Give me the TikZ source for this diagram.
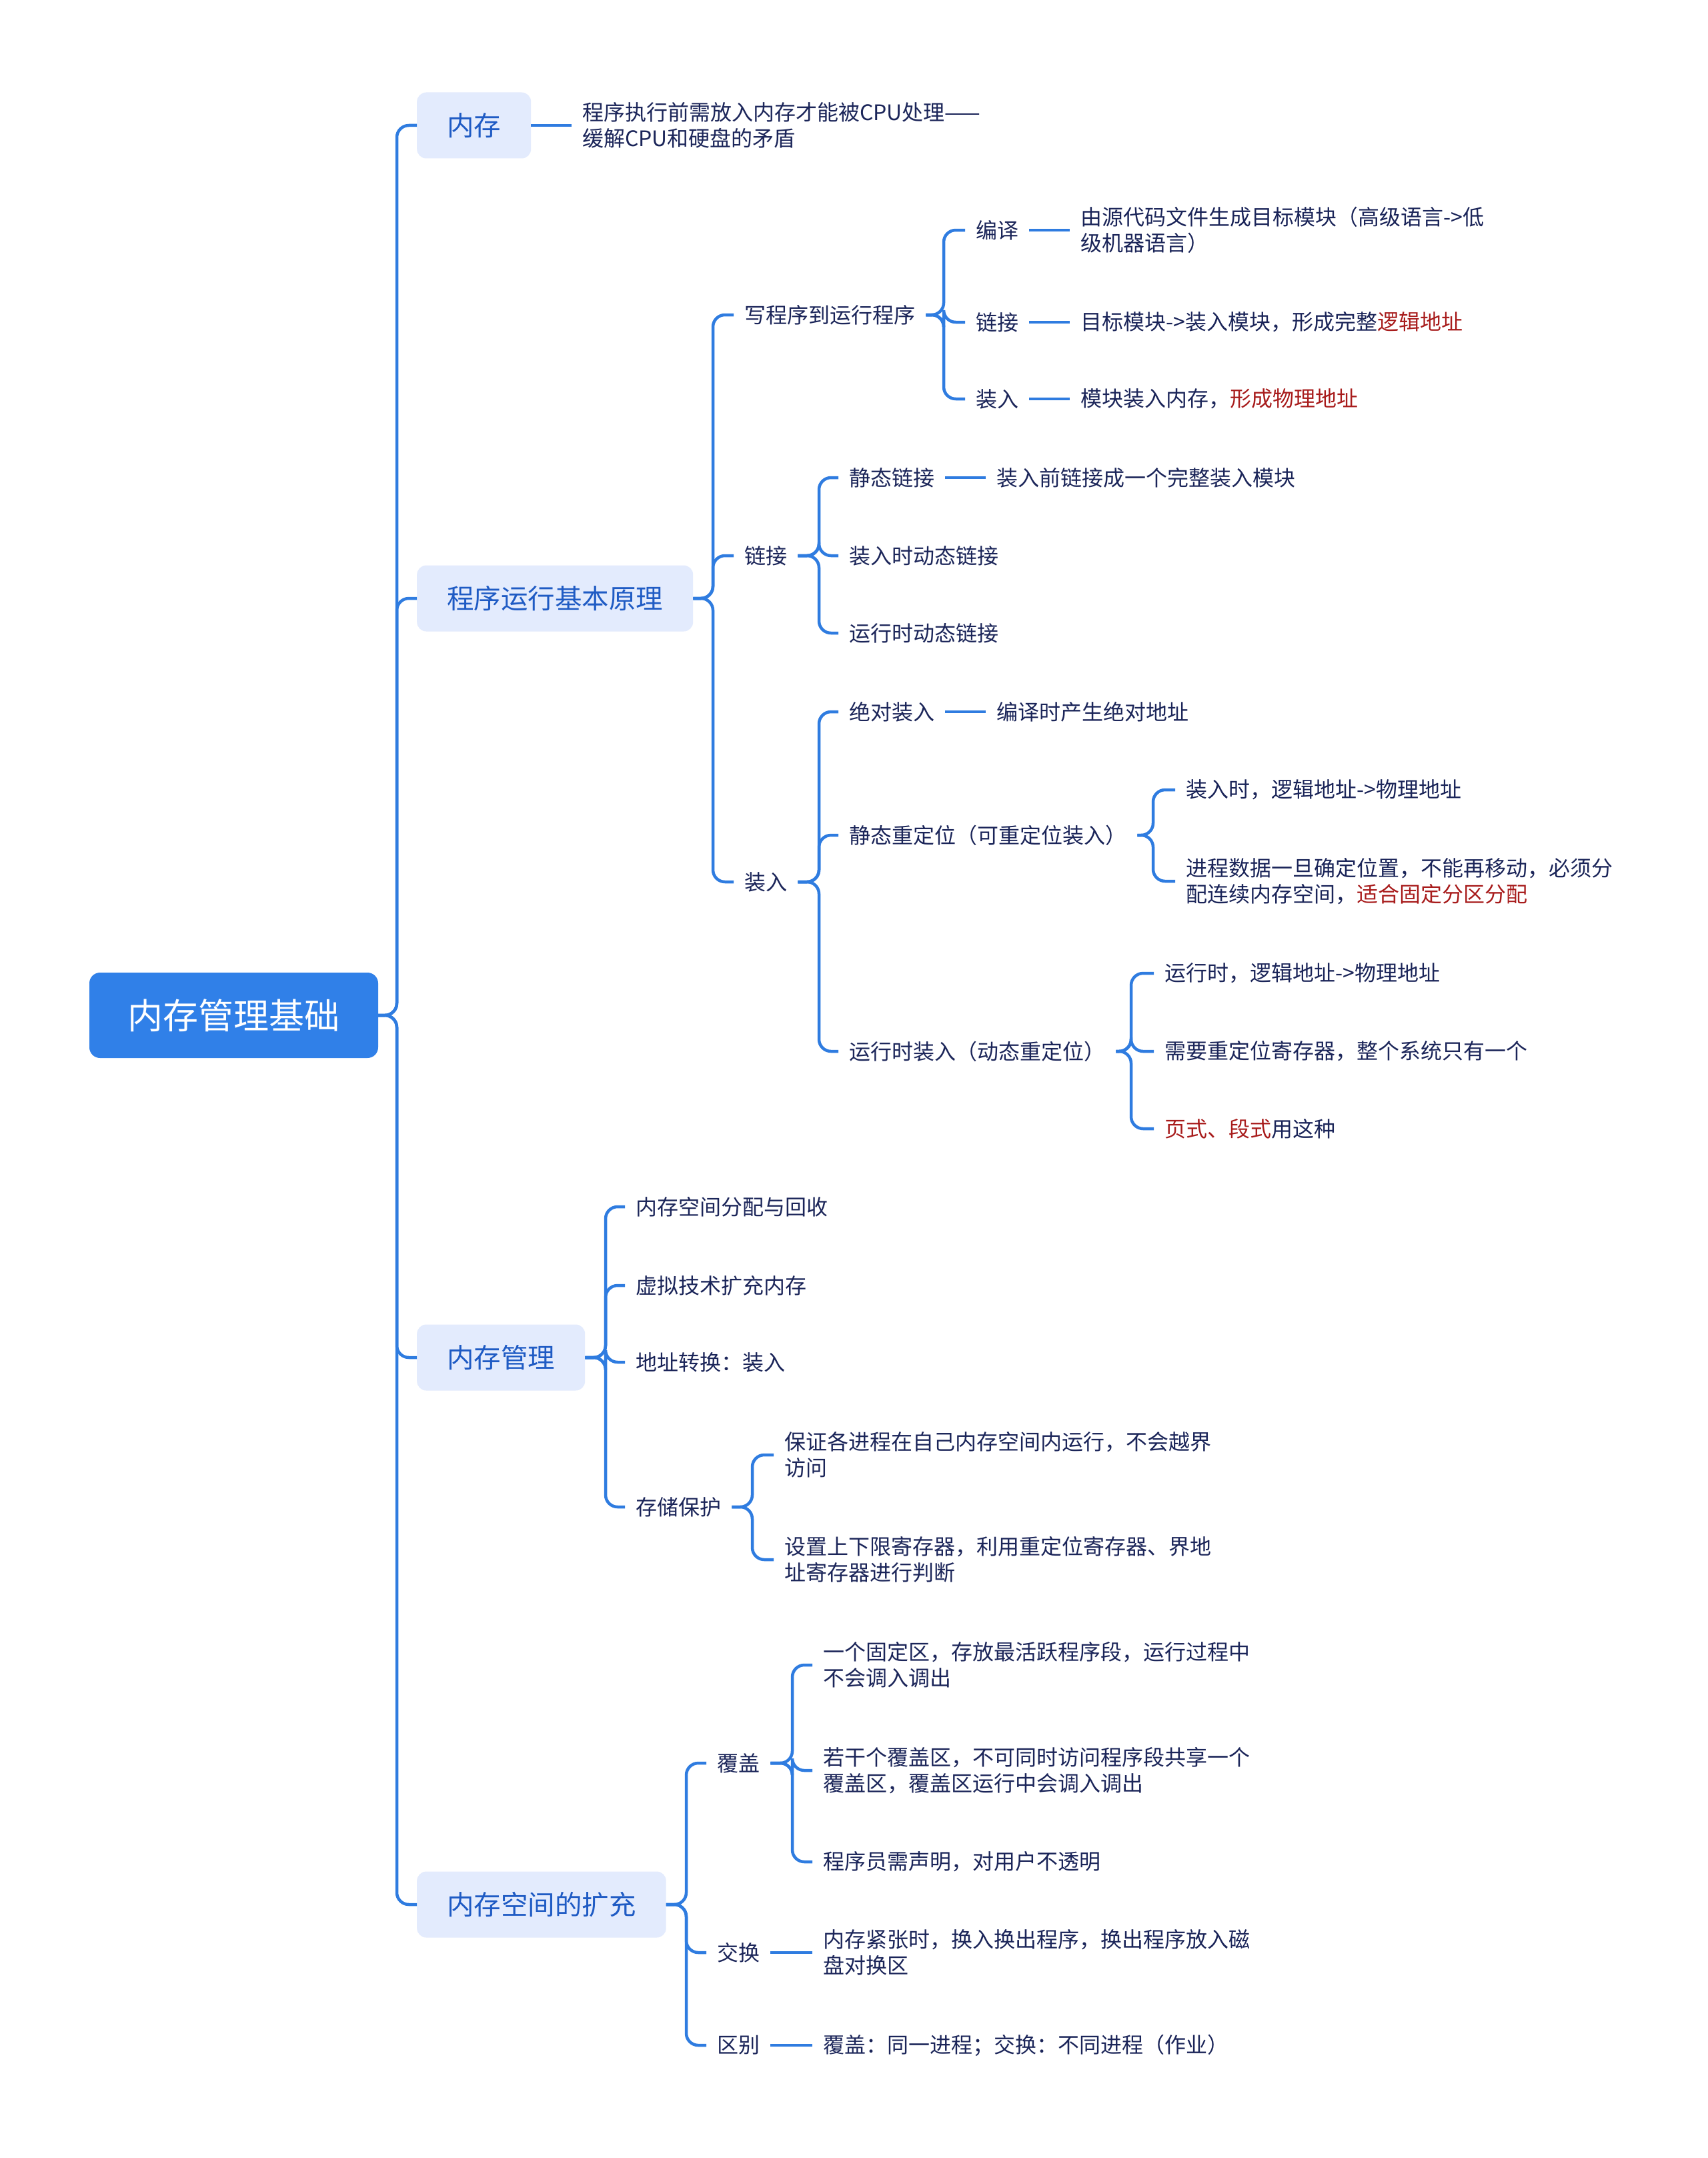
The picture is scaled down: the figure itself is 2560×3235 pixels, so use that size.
\documentclass[tikz,border=0pt]{standalone}
\usepackage{fontspec}
\newfontfamily\cjk{Noto Sans CJK SC}
\definecolor{lineblue}{HTML}{2F7CE0}
\definecolor{rootfill}{HTML}{3080E8}
\definecolor{boxfill}{HTML}{E3EBFD}
\definecolor{lvtext}{HTML}{1F5BC4}
\definecolor{navy}{HTML}{1B2559}
\definecolor{hred}{HTML}{A81C1C}
\newcommand\hr[1]{\textcolor{hred}{#1}}
\tikzset{
  conn/.style={draw=lineblue, line width=4.5pt, rounded corners=18pt},
  straightconn/.style={draw=lineblue, line width=4.5pt},
  rootbox/.style={fill=rootfill, text=white, rounded corners=16pt, font=\cjk\fontsize{53}{60}\selectfont,
    minimum width=433pt, minimum height=128pt, inner sep=0pt},
  lvone/.style={fill=boxfill, text=lvtext, rounded corners=14pt, font=\cjk\fontsize{40.5}{48}\selectfont,
    minimum height=99pt, inner xsep=45pt, inner ysep=0pt, anchor=west},
  txt/.style={text=navy, font=\cjk\fontsize{32}{39}\selectfont, inner xsep=16pt, inner ysep=4pt,
    align=left, anchor=west},
}
\newcommand\br[3]{\draw[conn] (#1.east) -- (#1.east -| #2) -- (#3.west -| #2) -- (#3.west);}
\newcommand\lf[2]{\draw[straightconn] (#1.east) -- (#1.east -| #2.west);}
\begin{document}
\begin{tikzpicture}[x=1pt,y=-1pt]
\useasboundingbox[fill=white] (0,0) rectangle (2560,3235);
% coordinates of vertical connector lines
\coordinate (v0) at (595,0);
\coordinate (v2) at (1069,0);
\coordinate (va1) at (1415,0);
\coordinate (va2) at (1228,0);
\coordinate (vd2) at (1729,0);
\coordinate (vd3) at (1696,0);
\coordinate (v3) at (908,0);
\coordinate (vg4) at (1128,0);
\coordinate (v4) at (1029,0);
\coordinate (vi1) at (1188,0);

\node[rootbox] (root) at (350.5,1522) {内存管理基础};

\node[lvone] (m1) at (625,188) {内存};
\node[lvone] (m2) at (625,897) {程序运行基本原理};
\node[lvone] (m3) at (625,2035) {内存管理};
\node[lvone] (m4) at (625,2855) {内存空间的扩充};

\foreach \m in {m1,m2,m3,m4} {\br{root}{v0}{\m}}

% branch 1
\node[txt] (n1) at (857,188) {程序执行前需放入内存才能被CPU处理——\\缓解CPU和硬盘的矛盾};
\lf{m1}{n1}

% branch 2
\node[txt] (a1) at (1100,472) {写程序到运行程序};
\node[txt] (a2) at (1100,833) {链接};
\node[txt] (a3) at (1100,1322) {装入};
\foreach \c in {a1,a2,a3} {\br{m2}{v2}{\c}}

\node[txt] (b1) at (1447,345) {编译};
\node[txt] (b2) at (1447,483) {链接};
\node[txt] (b3) at (1447,598) {装入};
\foreach \c in {b1,b2,b3} {\br{a1}{va1}{\c}}
\node[txt] (l1) at (1604,345) {由源代码文件生成目标模块（高级语言->低\\级机器语言）};
\node[txt] (l2) at (1604,483) {目标模块->装入模块，形成完整\hr{逻辑地址}};
\node[txt] (l3) at (1604,598) {模块装入内存，\hr{形成物理地址}};
\lf{b1}{l1}
\lf{b2}{l2}
\lf{b3}{l3}

\node[txt] (c1) at (1257,716) {静态链接};
\node[txt] (c2) at (1257,833) {装入时动态链接};
\node[txt] (c3) at (1257,949) {运行时动态链接};
\foreach \c in {c1,c2,c3} {\br{a2}{va2}{\c}}
\node[txt] (c1l) at (1478,716) {装入前链接成一个完整装入模块};
\lf{c1}{c1l}

\node[txt] (d1) at (1257,1067) {绝对装入};
\node[txt] (d2) at (1257,1252) {静态重定位（可重定位装入）};
\node[txt] (d3) at (1257,1576) {运行时装入（动态重定位）};
\foreach \c in {d1,d2,d3} {\br{a3}{va2}{\c}}
\node[txt] (d1l) at (1478,1067) {编译时产生绝对地址};
\lf{d1}{d1l}

\node[txt] (e1) at (1762,1184) {装入时，逻辑地址->物理地址};
\node[txt] (e2) at (1762,1321) {进程数据一旦确定位置，不能再移动，必须分\\配连续内存空间，\hr{适合固定分区分配}};
\foreach \c in {e1,e2} {\br{d2}{vd2}{\c}}

\node[txt] (f1) at (1730,1459) {运行时，逻辑地址->物理地址};
\node[txt] (f2) at (1730,1576) {需要重定位寄存器，整个系统只有一个};
\node[txt] (f3) at (1730,1692) {\hr{页式、段式}用这种};
\foreach \c in {f1,f2,f3} {\br{d3}{vd3}{\c}}

% branch 3
\node[txt] (g1) at (937,1809) {内存空间分配与回收};
\node[txt] (g2) at (937,1927) {虚拟技术扩充内存};
\node[txt] (g3) at (937,2042) {地址转换：装入};
\node[txt] (g4) at (937,2259) {存储保护};
\foreach \c in {g1,g2,g3,g4} {\br{m3}{v3}{\c}}
\node[txt] (h1) at (1160,2181) {保证各进程在自己内存空间内运行，不会越界\\访问};
\node[txt] (h2) at (1160,2338) {设置上下限寄存器，利用重定位寄存器、界地\\址寄存器进行判断};
\foreach \c in {h1,h2} {\br{g4}{vg4}{\c}}

% branch 4
\node[txt] (i1) at (1059,2643) {覆盖};
\node[txt] (i2) at (1059,2927) {交换};
\node[txt] (i3) at (1059,3066) {区别};
\foreach \c in {i1,i2,i3} {\br{m4}{v4}{\c}}
\node[txt] (j1) at (1218,2496) {一个固定区，存放最活跃程序段，运行过程中\\不会调入调出};
\node[txt] (j2) at (1218,2654) {若干个覆盖区，不可同时访问程序段共享一个\\覆盖区，覆盖区运行中会调入调出};
\node[txt] (j3) at (1218,2791) {程序员需声明，对用户不透明};
\foreach \c in {j1,j2,j3} {\br{i1}{vi1}{\c}}
\node[txt] (i2l) at (1218,2927) {内存紧张时，换入换出程序，换出程序放入磁\\盘对换区};
\node[txt] (i3l) at (1218,3066) {覆盖：同一进程；交换：不同进程（作业）};
\lf{i2}{i2l}
\lf{i3}{i3l}
\end{tikzpicture}
\end{document}
